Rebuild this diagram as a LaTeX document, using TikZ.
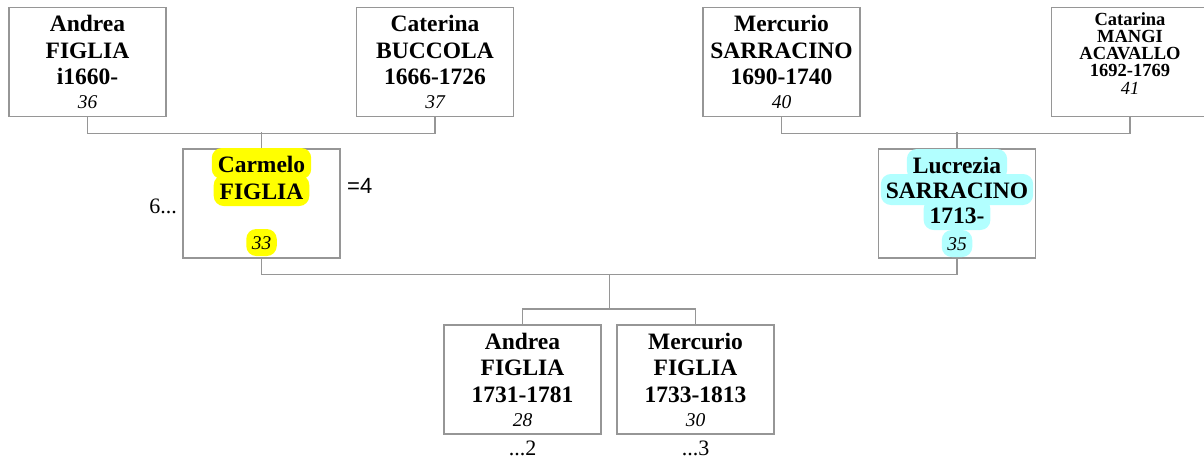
\documentclass[tikz,border=0pt]{standalone}
\usepackage{fontspec}
\setmainfont{Liberation Serif}
\newfontfamily\arialfont{Liberation Sans}
\usetikzlibrary{calc, positioning}

\definecolor{hlyellow}{RGB}{255,255,0}
\definecolor{hlcyan}{RGB}{178,255,255}
\definecolor{linegray}{RGB}{150,150,150}

\begin{document}
\begin{tikzpicture}[
    x=1pt, y=-1pt,
    person/.style={draw=linegray, line width=1.3pt, minimum width=157pt, minimum height=109pt,
        inner sep=0pt, align=center, font=\fontsize{23.5}{26.5}\selectfont\bfseries},
    small/.style={font=\fontsize{18.5}{17.2}\selectfont\bfseries},
    hl/.style={fill=#1, rounded corners=10pt, inner xsep=6pt, inner ysep=0pt, anchor=base,
        text height=24pt, text depth=7pt, font=\fontsize{23.5}{26.5}\selectfont\bfseries},
    link/.style={draw=linegray, line width=1.3pt},
    extra/.style={font=\fontsize{22}{22}\selectfont, inner sep=0pt}
]
\def\ahnr#1{{\fontsize{19.5}{24}\selectfont\mdseries\itshape #1}}

\useasboundingbox (0,0) rectangle (1204,464);

% --- Grosseltern ---
\node[person] (p36) at (87.5,62) {Andrea\\FIGLIA\\i1660-\\[-2.5pt]\ahnr{36}};
\node[person] (p37) at (435,62) {Caterina\\BUCCOLA\\1666-1726\\[-2.5pt]\ahnr{37}};
\node[person] (p40) at (781.5,62) {Mercurio\\SARRACINO\\1690-1740\\[-2.5pt]\ahnr{40}};
\node[person, small, text depth=17pt] (p41) at (1130,62)
    {Catarina\\MANGI\\ACAVALLO\\1692-1769\\[1pt]{\fontsize{18.5}{17}\selectfont\mdseries\itshape 41}};

% --- Eltern (markiert) ---
\node[person] (p33) at (261.5,203.5) {};
\node[hl=hlyellow] (p33a) at (261.5,172) {Carmelo};
\node[hl=hlyellow] (p33b) at (261.5,199) {FIGLIA};
\node[hl=hlyellow, inner xsep=5.5pt, text height=20pt] (p33c) at (261.5,249) {\ahnr{33}};

\node[person] (p35) at (957,203.5) {};
\node[hl=hlcyan] (p35a) at (957,173) {Lucrezia};
\node[hl=hlcyan, inner xsep=5pt] (p35b) at (957,198) {SARRACINO};
\node[hl=hlcyan] (p35c) at (957,223) {1713-};
\node[hl=hlcyan, inner xsep=5.5pt, text height=20pt] (p35d) at (957,250) {\ahnr{35}};

\node[extra, anchor=base east] (gen33) at (177,213.5) {6...};
\node[extra, anchor=base west, font=\fontsize{22}{22}\selectfont\arialfont] (mar33) at (347,193.3) {=4};

% --- Kinder ---
\node[person] (p28) at (522.5,379.5) {Andrea\\FIGLIA\\1731-1781\\[-2.5pt]\ahnr{28}};
\node[person] (p30) at (695.5,379.5) {Mercurio\\FIGLIA\\1733-1813\\[-2.5pt]\ahnr{30}};
\node[extra, anchor=base] (gen28) at ($(p28.south)+(0,21)$) {...2};
\node[extra, anchor=base] (gen30) at ($(p30.south)+(0,21)$) {...3};

% --- Verbindungen ---
\draw[link] (p36.south) -- ++(0,16) -| (p37.south);
\draw[link] (p33.north) -- ++(0,-16);
\draw[link] (p40.south) -- ++(0,16) -| (p41.south);
\draw[link] (p35.north) -- ++(0,-16);

\draw[link] (p33.south) -- ++(0,15.5) coordinate (fam) -| (p35.south);
\draw[link] (p28.north) -- ++(0,-15.5) coordinate (sib) -| (p30.north);
\coordinate (famm) at ($(fam)!0.5!(fam -| p35.south)$);
\draw[link] (famm) -- (famm |- sib);

\end{tikzpicture}
\end{document}
